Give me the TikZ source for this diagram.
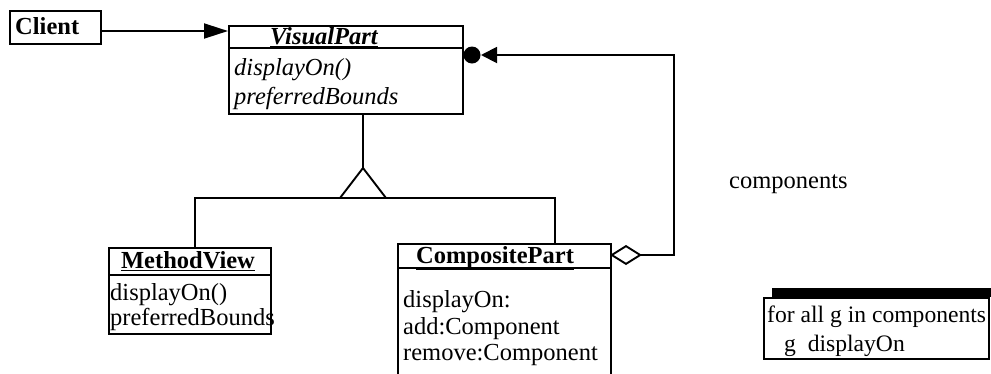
\documentclass[tikz,border=0pt]{standalone}
\usepackage{fontspec}
\setmainfont{Liberation Serif}
\usetikzlibrary{arrows.meta}
\begin{document}
\begin{tikzpicture}[x=1pt,y=-1pt,
  box/.style={draw, line width=1.9pt, inner sep=0pt, anchor=north west},
  txt/.style={inner sep=0pt, anchor=base west, font=\fontsize{24.5}{28}\selectfont},
  itx/.style={txt, font=\fontsize{24.5}{28}\selectfont\itshape},
  ttl/.style={inner sep=0pt, anchor=base, font=\fontsize{24.5}{28}\selectfont\bfseries},
  notetxt/.style={txt, font=\fontsize{23.6}{28}\selectfont},
  conn/.style={line width=1.9pt},
]
\useasboundingbox (0,0) rectangle (991,373);
\clip (0,0) rectangle (991,373);

% Client
\node[box, minimum width=91pt, minimum height=33pt] (client) at (9,10) {};
\node[txt, font=\fontsize{24.5}{28}\selectfont\bfseries] (clientlbl) at (15,34) {Client};

% VisualPart
\node[box, minimum width=234pt, minimum height=88pt] (vp) at (228,25) {};
\draw[conn] (228,48) -- (462,48);
\node[ttl, font=\fontsize{24.5}{28}\selectfont\bfseries\itshape] (vptitle) at (324,44) {\underline{VisualPart}};
\node[itx] (vpa1) at (234,75) {displayOn()};
\node[itx] (vpa2) at (234,104) {preferredBounds};

% MethodView
\node[box, minimum width=162pt, minimum height=86pt] (mv) at (108,247) {};
\draw[conn] (108,275) -- (270,275);
\node[ttl] (mvtitle) at (188,268) {\underline{MethodView}};
\node[txt] (mva1) at (110,300) {displayOn()};
\node[txt] (mva2) at (110,325) {preferredBounds};

% CompositePart
\node[box, minimum width=213pt, minimum height=150pt] (cp) at (397,243) {};
\draw[conn] (397,268) -- (610,268);
\node[ttl] (cptitle) at (495,263) {\underline{CompositePart}};
\node[txt] (cpa1) at (403,307) {displayOn:};
\node[txt] (cpa2) at (403,334) {add:Component};
\node[txt] (cpa3) at (403,360) {remove:Component};

% Note
\fill (772,288) rectangle (995,297);
\node[box, minimum width=225pt, minimum height=61pt] (note) at (763,297) {};
\node[notetxt] (n1) at (767,322) {for all g in components};
\node[notetxt] (n2) at (784,351) {g\ \ displayOn};

% label
\node[txt] (complbl) at (729,188) {components};

% Client -> VisualPart
\coordinate (a1) at (client.east |- 0,31);
\coordinate (a2) at (vp.west |- 0,31);
\draw[conn, -{Triangle[length=24pt,width=15pt]}] (a1) -- (a2);

% Generalization
\coordinate (gtop) at (363,113);
\coordinate (apex) at (363,168);
\coordinate (bl) at (340,198);
\coordinate (br) at (386,198);
\draw[conn] (gtop) -- (apex);
\draw[conn, line join=miter] (apex) -- (bl) -- (br) -- cycle;
\coordinate (hl) at (195,198);
\coordinate (hr) at (555,198);
\draw[conn] (mv.north west -| hl) -- (hl) -- (hr) -- (cp.north west -| hr);

% Aggregation components
\coordinate (d0) at (610,255);
\coordinate (d1) at (674,255);
\coordinate (d2) at (674,55);
\coordinate (d3) at (481,55);
\draw[conn, {Diamond[open,length=32pt,width=20pt]}-{Triangle[length=16pt,width=16pt]}] (d0) -- (d1) -- (d2) -- (d3);
\fill (472,55) circle (8.5pt);
\end{tikzpicture}
\end{document}
